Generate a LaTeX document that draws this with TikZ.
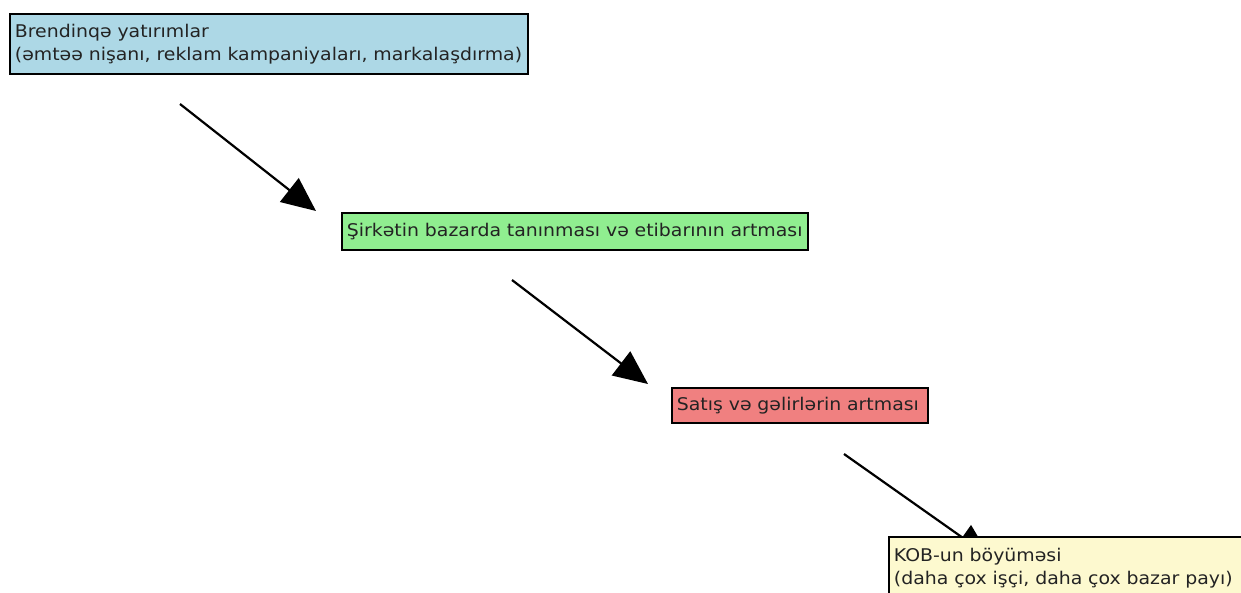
\documentclass[tikz,border=0pt]{standalone}
\usepackage{fontspec}
\setmainfont[FakeStretch=1.08]{DejaVu Sans}
\usetikzlibrary{arrows.meta}
\definecolor{cblue}{RGB}{173,216,230}
\definecolor{cgreen}{RGB}{144,238,144}
\definecolor{cred}{RGB}{240,128,128}
\definecolor{cyel}{RGB}{253,249,207}
\definecolor{ctext}{RGB}{35,35,35}
\begin{document}
\begin{tikzpicture}[x=1pt,y=-1pt,
  box/.style={draw=black, line width=1.8pt, anchor=north west, align=left,
    inner xsep=5pt, inner ysep=0pt, text=ctext,
    font=\fontsize{17.5}{23}\selectfont},
  flow/.style={line width=2.2pt, -{Triangle[length=34pt,width=30pt]}}]
\path[use as bounding box] (0,0) rectangle (1241,592);
\begin{scope}
\clip (0,0) rectangle (1241,592);
\node[box, fill=cblue, text width=508pt, minimum height=60pt] (b1) at (9,13)
  {Brendinqə yatırımlar\\(əmtəə nişanı, reklam kampaniyaları, markalaşdırma)};
\node[box, fill=cgreen, text width=456pt, minimum height=37pt] (b2) at (341,212)
  {Şirkətin bazarda tanınması və etibarının artması};
\node[box, fill=cred, text width=246pt, minimum height=35pt] (b3) at (671,387)
  {Satış və gəlirlərin artması};
\coordinate (a1s) at (180,104);
\coordinate (a1e) at (316,211);
\coordinate (a2s) at (512,280);
\coordinate (a2e) at (648,384);
\coordinate (a3s) at (844,454);
\coordinate (a3e) at (990,557);
\draw[flow] (a1s) -- (a1e);
\draw[flow] (a2s) -- (a2e);
\draw[flow] (a3s) -- (a3e);
\node[box, fill=cyel, text width=360pt, minimum height=62pt] (b4) at (888,536)
  {KOB-un böyüməsi\\(daha çox işçi, daha çox bazar payı)};
\end{scope}
\end{tikzpicture}
\end{document}
